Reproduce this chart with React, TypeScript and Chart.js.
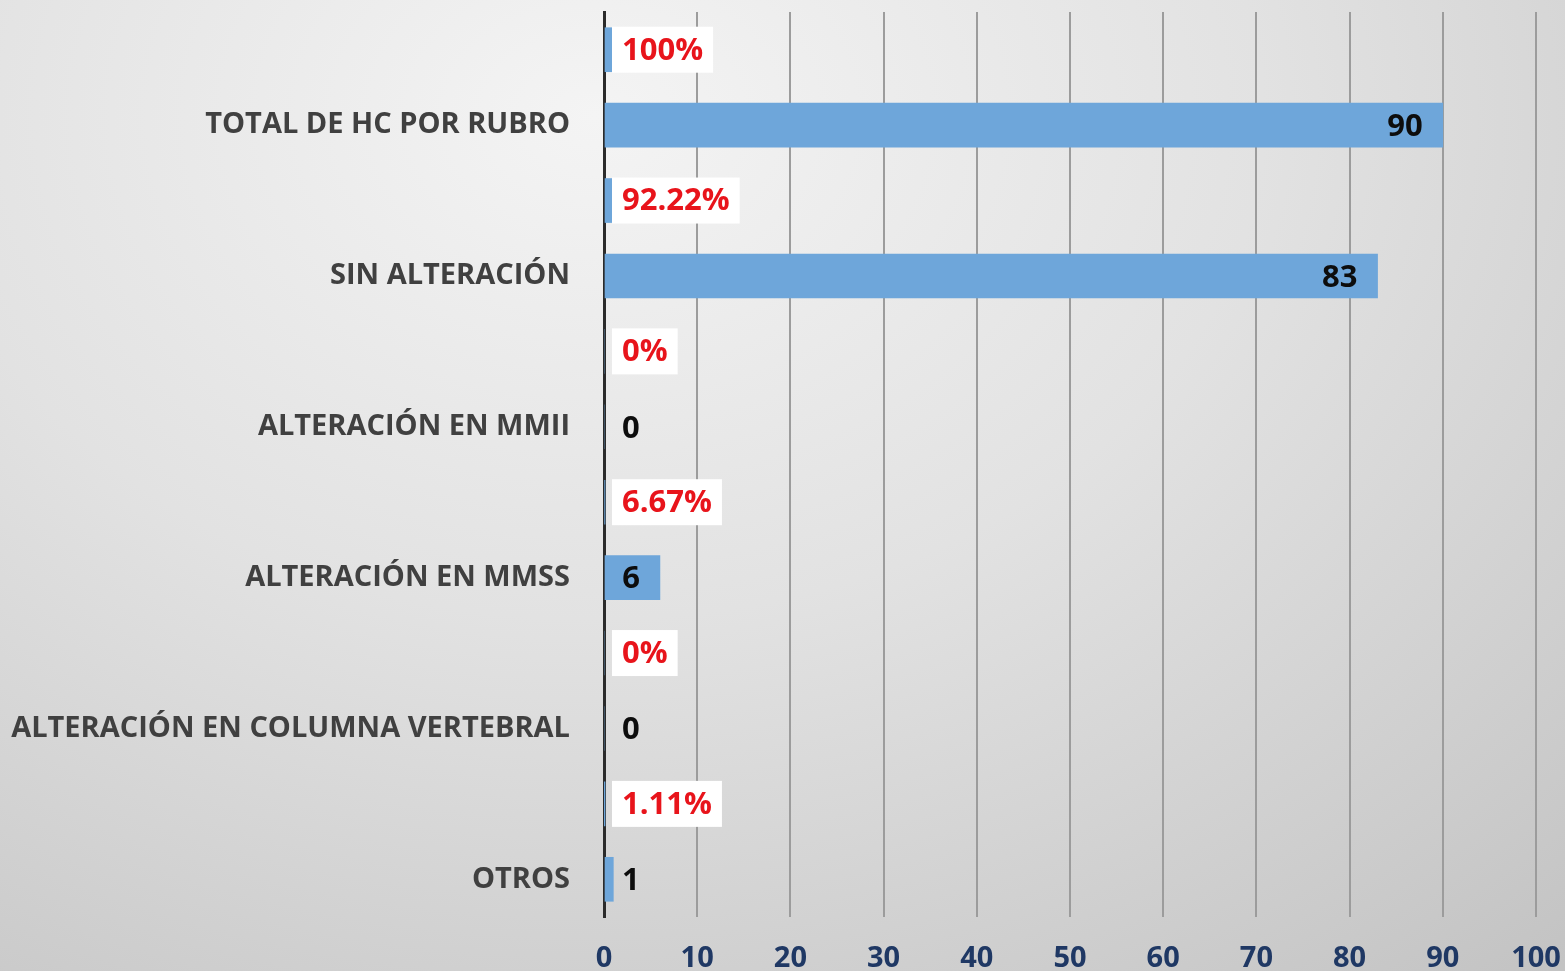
import React, { useEffect, useRef } from "react";
import { Chart, registerables } from "chart.js";

Chart.register(...registerables);

const categories = [
  "",
  "TOTAL DE HC POR RUBRO",
  "",
  "SIN ALTERACIÓN",
  "",
  "ALTERACIÓN EN MMII",
  "",
  "ALTERACIÓN EN MMSS",
  "",
  "ALTERACIÓN EN COLUMNA VERTEBRAL",
  "",
  "OTROS",
];
const values = [1, 90, 0.9222, 83, 0, 0, 0.0667, 6, 0, 0, 0.0111, 1];
const isPercent = [true, false, true, false, true, false, true, false, true, false, true, false];
const xTicks = [0, 10, 20, 30, 40, 50, 60, 70, 80, 90, 100];

const FONT = "'Open Sans', 'DejaVu Sans', sans-serif";

function fmt(v: number, pct: boolean): string {
  if (!pct) return String(v);
  const p = Math.round(v * 10000) / 100;
  return (Number.isInteger(p) ? String(p) : p.toFixed(2)) + "%";
}

const labelPlugin = {
  id: "barLabels",
  afterDatasetsDraw(chart: any) {
    const ctx = chart.ctx;
    const meta = chart.getDatasetMeta(0);
    const xScale = chart.scales.x;
    const x0 = xScale.getPixelForValue(0);
    ctx.save();
    ctx.font = `bold 31px ${FONT}`;
    ctx.textBaseline = "middle";
    meta.data.forEach((bar: any, i: number) => {
      const v = values[i];
      const pct = isPercent[i];
      const text = fmt(v, pct);
      const w = ctx.measureText(text).width;
      const y = bar.y;
      if (pct) {
        const bx = x0 + 8;
        const bw = w + 20;
        const bh = 46;
        ctx.fillStyle = "#ffffff";
        ctx.fillRect(bx, y - bh / 2, bw, bh);
        ctx.fillStyle = "#e8141b";
        ctx.textAlign = "left";
        ctx.fillText(text, bx + 10, y + 1);
      } else {
        const end = bar.x;
        const tx = Math.max(end - 20 - w, x0 + 18);
        ctx.fillStyle = "#0d0d0d";
        ctx.textAlign = "left";
        ctx.fillText(text, tx, y + 2);
      }
    });
    ctx.restore();
  },
};

function zeroPadding(scale: any) {
  scale.paddingTop = 0;
  scale.paddingBottom = 0;
  scale.paddingLeft = 0;
  scale.paddingRight = 0;
}

export default function App() {
  const canvasRef = useRef<HTMLCanvasElement | null>(null);

  useEffect(() => {
    if (!canvasRef.current) return;
    const chart = new Chart(canvasRef.current, {
      type: "bar",
      data: {
        labels: categories,
        datasets: [
          {
            data: values,
            backgroundColor: "#6ea6da",
            borderWidth: 0,
            barThickness: 44,
          },
        ],
      },
      options: {
        indexAxis: "y",
        animation: false,
        responsive: false,
        maintainAspectRatio: false,
        layout: { padding: { top: 12, right: 29, bottom: 0, left: 0 } },
        plugins: {
          legend: { display: false },
          tooltip: { enabled: false },
          title: { display: false },
        },
        scales: {
          x: {
            type: "linear",
            min: 0,
            max: 100,
            afterBuildTicks(scale: any) {
              scale.ticks = xTicks.map((v) => ({ value: v }));
            },
            grid: {
              color: "#9c9c9c",
              lineWidth: 2,
              drawTicks: false,
            },
            border: { display: false },
            ticks: {
              color: "#1f3864",
              font: { family: FONT, size: 29, weight: "bold" },
              padding: 24,
            },
            afterFit(scale: any) {
              scale.height = 54;
              zeroPadding(scale);
            },
          },
          y: {
            grid: { display: false, drawTicks: false },
            border: { display: true, color: "#2b2b2b", width: 3 },
            ticks: {
              color: "#404040",
              font: { family: FONT, size: 29, weight: "bold" },
              padding: 34,
              autoSkip: false,
            },
            afterFit(scale: any) {
              scale.width = 604;
              zeroPadding(scale);
            },
          },
        },
      },
      plugins: [labelPlugin],
    });
    return () => chart.destroy();
  }, []);

  return (
    <div
      style={{
        position: "fixed",
        left: 0,
        top: 0,
        width: 1565,
        height: 971,
        background:
          "radial-gradient(ellipse 95% 115% at 38% 12%, #f4f4f4 0%, #e2e2e2 45%, #c3c3c3 100%)",
      }}
    >
      <canvas ref={canvasRef} width={1565} height={971} style={{ display: "block" }} />
    </div>
  );
}
